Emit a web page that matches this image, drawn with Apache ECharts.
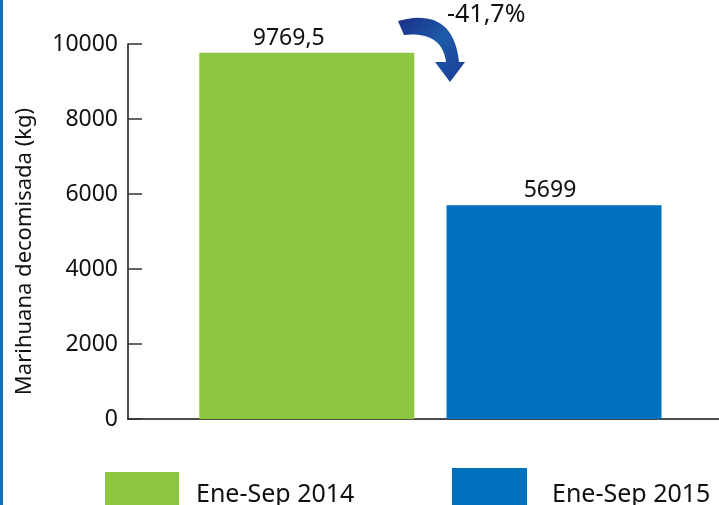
<!DOCTYPE html>
<html>
<head>
<meta charset="utf-8">
<script src="https://cdn.jsdelivr.net/npm/echarts@6/dist/echarts.min.js"></script>
<style>
  html, body { margin: 0; padding: 0; background: #fff; }
  #chart { width: 719px; height: 505px; }
</style>
</head>
<body>
<div id="chart"></div>
<script>
// datos
var periodos = ['Ene-Sep 2014', 'Ene-Sep 2015'];
var valores = [9769.5, 5699];
var colores = ['#8dc63f', '#0071bc'];
var variacion = '-41,7%';
var yTicks = [0, 2000, 4000, 6000, 8000, 10000];

var fuente = 'Noto Sans';
var etiquetaOffset = [[-18, 0], [-4, 0]];

// flecha curva (decorativa): puntos de una curva cuadratica
function curva(p0, c, p1, n) {
    var pts = [];
    for (var k = 0; k <= n; k++) {
        var t = k / n;
        pts.push([
            (1 - t) * (1 - t) * p0[0] + 2 * (1 - t) * t * c[0] + t * t * p1[0],
            (1 - t) * (1 - t) * p0[1] + 2 * (1 - t) * t * c[1] + t * t * p1[1]
        ]);
    }
    return pts;
}
var flecha = curva([398, 21], [453, 6], [459, 62], 20)
    .concat([[465, 62], [450, 82], [435, 62]])
    .concat(curva([446, 62], [442, 31], [404, 35], 20));

// serie vacia: solo reserva un hueco a la izquierda para correr las barras
var series = [{ type: 'bar', data: [], barWidth: 12, silent: true }];
for (var i = 0; i < periodos.length; i++) {
    series.push({
        name: periodos[i],
        type: 'bar',
        data: [valores[i]],
        barWidth: 215,
        barGap: '15%',
        itemStyle: { color: colores[i] },
        label: {
            show: true,
            position: 'top',
            distance: 3,
            offset: etiquetaOffset[i],
            color: '#111',
            fontFamily: fuente,
            fontSize: 23,
            formatter: function (p) { return String(p.value).replace('.', ','); }
        }
    });
}

var option = {
    animation: false,
    textStyle: { fontFamily: fuente },
    grid: { left: 128, right: 0, top: 44, bottom: 86 },
    legend: [
        {
            data: [periodos[0]],
            left: 105, top: 472, padding: 0,
            icon: 'rect', itemWidth: 74, itemHeight: 46,
            selectedMode: false,
            textStyle: { fontFamily: fuente, fontSize: 25, color: '#111', padding: [0, 0, 0, 12] }
        },
        {
            data: [periodos[1]],
            left: 452, top: 468, padding: 0,
            icon: 'rect', itemWidth: 75, itemHeight: 54,
            selectedMode: false,
            textStyle: { fontFamily: fuente, fontSize: 25, color: '#111', padding: [0, 0, 0, 20] }
        }
    ],
    xAxis: {
        type: 'category',
        data: ['Ene-Sep'],
        axisLine: { lineStyle: { color: '#111', width: 1.5 } },
        axisTick: { show: false },
        axisLabel: { show: false }
    },
    yAxis: {
        type: 'value',
        min: yTicks[0],
        max: yTicks[yTicks.length - 1],
        interval: 2000,
        name: 'Marihuana decomisada (kg)',
        nameLocation: 'middle',
        nameGap: 92,
        nameTextStyle: { fontFamily: fuente, fontSize: 22, color: '#111', padding: [0, 40, 0, 0] },
        axisLine: { show: true, lineStyle: { color: '#111', width: 1.5 } },
        axisTick: { show: true, inside: true, length: 14, lineStyle: { color: '#333', width: 1.5 } },
        axisLabel: {
            color: '#111', fontSize: 23, fontFamily: fuente, margin: 10,
            formatter: function (v) { return String(v); }
        },
        splitLine: { show: false }
    },
    graphic: [
        { type: 'rect', left: 0, top: 0, shape: { width: 3, height: 505 }, style: { fill: '#1570b8' } },
        {
            type: 'polygon',
            shape: { points: flecha },
            style: {
                fill: {
                    type: 'linear', x: 0, y: 0, x2: 1, y2: 1,
                    colorStops: [{ offset: 0, color: '#1b2f86' }, { offset: 0.5, color: '#1d5ba8' }, { offset: 1, color: '#1a3a94' }]
                }
            }
        },
        {
            type: 'text', left: 447, top: 2,
            style: { text: variacion, fontFamily: fuente, fontSize: 25, fill: '#111' }
        }
    ],
    series: series
};

var chart = echarts.init(document.getElementById('chart'));
chart.setOption(option);
</script>
</body>
</html>
